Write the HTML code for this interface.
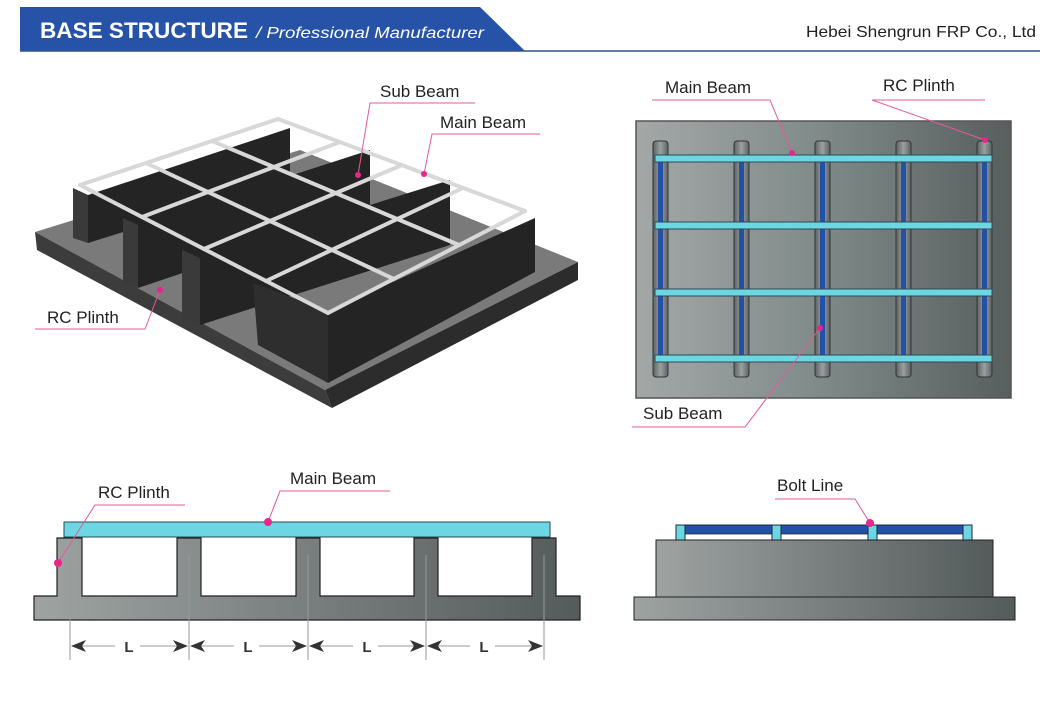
<!DOCTYPE html>
<html><head><meta charset="utf-8"><style>
html,body{margin:0;padding:0;background:#fff;}
svg{display:block;font-family:"Liberation Sans",sans-serif;}
</style></head><body>
<svg width="1060" height="709" viewBox="0 0 1060 709" xmlns="http://www.w3.org/2000/svg">
<defs>
<linearGradient id="g1" x1="0" x2="1" y1="0" y2="0"><stop offset="0" stop-color="#a3a8a7"/><stop offset="0.5" stop-color="#7f8a88"/><stop offset="1" stop-color="#575e5e"/></linearGradient>
<linearGradient id="g2" x1="0" x2="1"><stop offset="0" stop-color="#9ea3a2"/><stop offset="1" stop-color="#545b5b"/></linearGradient>
<linearGradient id="col" x1="0" x2="1"><stop offset="0" stop-color="#5d6363"/><stop offset="0.5" stop-color="#9aa0a0"/><stop offset="1" stop-color="#5d6363"/></linearGradient>
</defs>
<!-- header -->
<polygon points="20,7 480,7 525,51 20,51" fill="#2653a8"/>
<line x1="20" y1="51" x2="1040" y2="51" stroke="#2f5584" stroke-width="1.5"/>
<text x="40" y="38" font-size="22" font-weight="bold" fill="#fff" textLength="208" lengthAdjust="spacingAndGlyphs">BASE STRUCTURE</text>
<text x="256" y="38" font-size="16" font-style="italic" fill="#fff" textLength="228" lengthAdjust="spacingAndGlyphs">/ Professional Manufacturer</text>
<text x="806" y="37" font-size="16" fill="#222" textLength="230" lengthAdjust="spacingAndGlyphs">Hebei Shengrun FRP Co., Ltd</text>

<!-- 3D view -->
<polygon points="35,232 300,150 578,262 325,390" fill="#7a7a7a"/>
<polygon points="35,232 325,390 332,408 37,250" fill="#3c3c3c"/>
<polygon points="325,390 578,262 578,280 332,408" fill="#2c2c2c"/>
<g fill="#242424">
<polygon points="73,188 88,195 88,243 73,238" fill="#3a3a3a"/>
<polygon points="88,195 290,128 290,180 88,243"/>
<polygon points="123,218 138,225 138,288 123,282" fill="#3a3a3a"/>
<polygon points="138,225 370,150 370,210 138,288"/>
<polygon points="182,250 200,258 200,325 182,318" fill="#3a3a3a"/>
<polygon points="200,258 450,180 450,245 200,325"/>
<polygon points="253,283 328,311 328,383 258,345" fill="#2e2e2e"/>
<polygon points="328,311 535,218 535,272 328,383"/>
</g>
<g stroke="#d8d8d8" stroke-width="4" stroke-linecap="round">
<line x1="80" y1="185" x2="328" y2="313"/>
<line x1="146" y1="163" x2="394" y2="279"/>
<line x1="212" y1="141" x2="459" y2="245"/>
<line x1="278" y1="119" x2="525" y2="211"/>
<line x1="80" y1="185" x2="278" y2="119"/>
<line x1="142" y1="217" x2="340" y2="142"/>
<line x1="204" y1="249" x2="402" y2="165"/>
<line x1="266" y1="281" x2="463" y2="188"/>
<line x1="328" y1="313" x2="525" y2="211"/>
</g>

<!-- top right plan -->
<rect x="636" y="121" width="375" height="277" fill="url(#g1)" stroke="#555" stroke-width="1.5"/>
<g stroke="#333" stroke-width="1">
<rect x="653" y="141" width="15" height="236" rx="3" fill="url(#col)"/>
<rect x="734" y="141" width="15" height="236" rx="3" fill="url(#col)"/>
<rect x="815" y="141" width="15" height="236" rx="3" fill="url(#col)"/>
<rect x="896" y="141" width="15" height="236" rx="3" fill="url(#col)"/>
<rect x="977" y="141" width="15" height="236" rx="3" fill="url(#col)"/>
</g>
<g fill="#2350a8">
<rect x="658" y="160" width="5" height="200"/><rect x="739" y="160" width="5" height="200"/><rect x="820" y="160" width="5" height="200"/><rect x="901" y="160" width="5" height="200"/><rect x="982" y="160" width="5" height="200"/>
</g>
<g fill="#6dd6e3" stroke="#2b4a55" stroke-width="1">
<rect x="655" y="155" width="337" height="7"/><rect x="655" y="222" width="337" height="7"/><rect x="655" y="289" width="337" height="7"/><rect x="655" y="355" width="337" height="7"/>
</g>

<!-- bottom left -->
<rect x="64" y="522" width="486" height="15" fill="#6dd6e3" stroke="#2b4a55"/>
<path d="M57,538 H82 V596 H177 V538 H201 V596 H296 V538 H320 V596 H414 V538 H438 V596 H532 V538 H556 V596 H580 V620 H34 V596 H57 Z" fill="url(#g2)" stroke="#222" stroke-width="1.2"/>
<g stroke="#999" stroke-width="1">
<line x1="70" y1="555" x2="70" y2="660"/><line x1="189" y1="555" x2="189" y2="660"/><line x1="308" y1="555" x2="308" y2="660"/><line x1="426" y1="555" x2="426" y2="660"/><line x1="544" y1="555" x2="544" y2="660"/>
<line x1="72" y1="646" x2="115" y2="646"/><line x1="140" y1="646" x2="187" y2="646"/>
<line x1="191" y1="646" x2="234" y2="646"/><line x1="259" y1="646" x2="306" y2="646"/>
<line x1="310" y1="646" x2="353" y2="646"/><line x1="378" y1="646" x2="424" y2="646"/>
<line x1="428" y1="646" x2="470" y2="646"/><line x1="495" y1="646" x2="542" y2="646"/>
</g>
<g fill="#333">
<polygon points="71,646 86,640 82,646 86,652"/><polygon points="188,646 173,640 177,646 173,652"/>
<polygon points="190,646 205,640 201,646 205,652"/><polygon points="307,646 292,640 296,646 292,652"/>
<polygon points="309,646 324,640 320,646 324,652"/><polygon points="425,646 410,640 414,646 410,652"/>
<polygon points="427,646 442,640 438,646 442,652"/><polygon points="543,646 528,640 532,646 528,652"/>
</g>
<g font-size="15" font-weight="bold" fill="#333" text-anchor="middle">
<text x="129" y="652">L</text><text x="248" y="652">L</text><text x="367" y="652">L</text><text x="484" y="652">L</text>
</g>

<!-- bottom right -->
<rect x="676" y="525" width="296" height="9" fill="#2350a8" stroke="#1a2a40"/>
<rect x="676" y="534" width="296" height="6" fill="#fff" stroke="#333" stroke-width="0.8"/>
<g fill="#6dd6e3" stroke="#1a2a40">
<rect x="676" y="525" width="9" height="15"/><rect x="772" y="525" width="9" height="15"/><rect x="868" y="525" width="9" height="15"/><rect x="963" y="525" width="9" height="15"/>
</g>
<rect x="656" y="540" width="337" height="57" fill="url(#g2)" stroke="#222"/>
<rect x="634" y="597" width="381" height="23" fill="url(#g2)" stroke="#222"/>

<!-- labels -->
<g stroke="#e45a9a" stroke-width="1" fill="none">
<polyline points="475,103 370,103 358,175"/>
<polyline points="540,134 432,134 424,174"/>
<polyline points="35,329 145,329 160,290"/>
<polyline points="652,100 770,100 792,153"/>
<polyline points="985,100 872,100 985,140"/>
<polyline points="632,427 745,427 820,328"/>
<polyline points="185,505 95,505 58,563"/>
<polyline points="390,491 280,491 268,522"/>
<polyline points="775,499 855,499 870,523"/>
</g>
<g fill="#e8268a">
<circle cx="358" cy="175" r="3"/><circle cx="424" cy="174" r="3"/><circle cx="160" cy="290" r="3"/>
<circle cx="792" cy="153" r="3"/><circle cx="985" cy="140" r="3"/><circle cx="820" cy="328" r="3"/>
<circle cx="58" cy="563" r="4"/><circle cx="268" cy="522" r="4"/><circle cx="870" cy="523" r="4"/>
</g>
<g font-size="17" fill="#222">
<text x="380" y="97">Sub Beam</text>
<text x="440" y="128">Main Beam</text>
<text x="47" y="323">RC Plinth</text>
<text x="665" y="93">Main Beam</text>
<text x="883" y="91">RC Plinth</text>
<text x="643" y="419">Sub Beam</text>
<text x="98" y="498">RC Plinth</text>
<text x="290" y="484">Main Beam</text>
<text x="777" y="491">Bolt Line</text>
</g>
</svg>
</body></html>
